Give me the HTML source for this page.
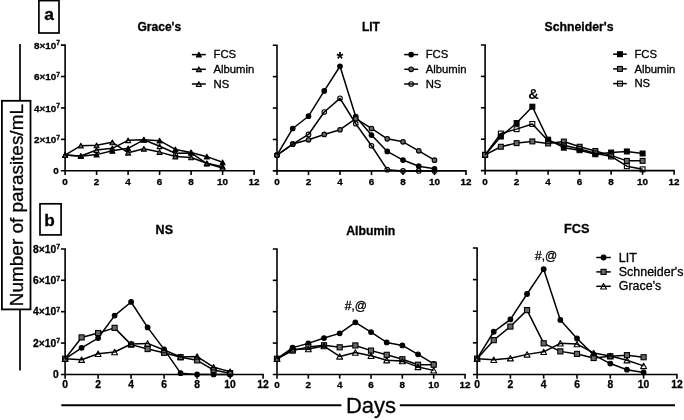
<!DOCTYPE html>
<html lang="en">
<head>
<meta charset="utf-8">
<title>Number of parasites/mL over days</title>
<style>
html,body{margin:0;padding:0;background:#fff;}
body{width:684px;height:420px;overflow:hidden;}
svg{display:block;will-change:transform;font-family:"Liberation Sans", Arial, Helvetica, sans-serif;fill:#000;}
.k{stroke:#000;stroke-width:0.3px;}
.m{stroke:#000;stroke-width:0.3px;}
</style>
</head>
<body>
<svg width="684" height="420" viewBox="0 0 684 420">
<rect x="0" y="0" width="684" height="420" fill="#fff"/>
<path d="M60.90 45.10H65.10V175.00" fill="none" stroke="#000" stroke-width="1.6"/>
<path d="M60.90 170.80H254.10V175.00" fill="none" stroke="#000" stroke-width="1.6"/>
<path d="M60.90 139.38H65.10" stroke="#000" stroke-width="1.6"/>
<path d="M60.90 107.95H65.10" stroke="#000" stroke-width="1.6"/>
<path d="M60.90 76.53H65.10" stroke="#000" stroke-width="1.6"/>
<path d="M96.60 170.80V175.00" stroke="#000" stroke-width="1.6"/>
<path d="M128.10 170.80V175.00" stroke="#000" stroke-width="1.6"/>
<path d="M159.60 170.80V175.00" stroke="#000" stroke-width="1.6"/>
<path d="M191.10 170.80V175.00" stroke="#000" stroke-width="1.6"/>
<path d="M222.60 170.80V175.00" stroke="#000" stroke-width="1.6"/>
<text x="65.10" y="184.70" text-anchor="middle" font-size="9.9" font-weight="700" class="k">0</text>
<text x="96.60" y="184.70" text-anchor="middle" font-size="9.9" font-weight="700" class="k">2</text>
<text x="128.10" y="184.70" text-anchor="middle" font-size="9.9" font-weight="700" class="k">4</text>
<text x="159.60" y="184.70" text-anchor="middle" font-size="9.9" font-weight="700" class="k">6</text>
<text x="191.10" y="184.70" text-anchor="middle" font-size="9.9" font-weight="700" class="k">8</text>
<text x="222.60" y="184.70" text-anchor="middle" font-size="9.9" font-weight="700" class="k">10</text>
<text x="254.10" y="184.70" text-anchor="middle" font-size="9.9" font-weight="700" class="k">12</text>
<text x="60.10" y="143.07" text-anchor="end" font-size="9.9" font-weight="700" class="k">2×10<tspan dy="-3.4" font-size="6.73">7</tspan></text>
<text x="60.10" y="111.65" text-anchor="end" font-size="9.9" font-weight="700" class="k">4×10<tspan dy="-3.4" font-size="6.73">7</tspan></text>
<text x="60.10" y="80.23" text-anchor="end" font-size="9.9" font-weight="700" class="k">6×10<tspan dy="-3.4" font-size="6.73">7</tspan></text>
<text x="60.10" y="48.80" text-anchor="end" font-size="9.9" font-weight="700" class="k">8×10<tspan dy="-3.4" font-size="6.73">7</tspan></text>
<text x="58.80" y="174.40" text-anchor="end" font-size="9.9" font-weight="700" class="k">0</text>
<polyline points="65.10,155.09 80.85,156.19 96.60,154.62 112.35,150.85 128.10,148.33 143.85,139.85 159.60,140.63 175.35,149.43 191.10,152.42 206.85,156.66 222.60,162.32" fill="none" stroke="#000" stroke-width="1.5" stroke-linejoin="round"/>
<path d="M65.10 152.74L67.65 157.44L62.55 157.44Z" fill="#000" stroke="#000" stroke-width="1.1" stroke-linejoin="round"/>
<path d="M80.85 153.84L83.40 158.54L78.30 158.54Z" fill="#000" stroke="#000" stroke-width="1.1" stroke-linejoin="round"/>
<path d="M96.60 152.27L99.15 156.97L94.05 156.97Z" fill="#000" stroke="#000" stroke-width="1.1" stroke-linejoin="round"/>
<path d="M112.35 148.50L114.90 153.20L109.80 153.20Z" fill="#000" stroke="#000" stroke-width="1.1" stroke-linejoin="round"/>
<path d="M128.10 145.98L130.65 150.68L125.55 150.68Z" fill="#000" stroke="#000" stroke-width="1.1" stroke-linejoin="round"/>
<path d="M143.85 137.50L146.40 142.20L141.30 142.20Z" fill="#000" stroke="#000" stroke-width="1.1" stroke-linejoin="round"/>
<path d="M159.60 138.28L162.15 142.98L157.05 142.98Z" fill="#000" stroke="#000" stroke-width="1.1" stroke-linejoin="round"/>
<path d="M175.35 147.08L177.90 151.78L172.80 151.78Z" fill="#000" stroke="#000" stroke-width="1.1" stroke-linejoin="round"/>
<path d="M191.10 150.07L193.65 154.77L188.55 154.77Z" fill="#000" stroke="#000" stroke-width="1.1" stroke-linejoin="round"/>
<path d="M206.85 154.31L209.40 159.01L204.30 159.01Z" fill="#000" stroke="#000" stroke-width="1.1" stroke-linejoin="round"/>
<path d="M222.60 159.97L225.15 164.67L220.05 164.67Z" fill="#000" stroke="#000" stroke-width="1.1" stroke-linejoin="round"/>
<polyline points="65.10,155.09 80.85,145.66 96.60,145.35 112.35,142.36 128.10,152.73 143.85,148.80 159.60,152.10 175.35,156.50 191.10,157.44 206.85,163.26 222.60,166.71" fill="none" stroke="#000" stroke-width="1.5" stroke-linejoin="round"/>
<path d="M65.10 152.74L67.65 157.44L62.55 157.44Z" fill="#5c5c5c" stroke="#000" stroke-width="1.1" stroke-linejoin="round"/>
<path d="M80.85 143.31L83.40 148.01L78.30 148.01Z" fill="#5c5c5c" stroke="#000" stroke-width="1.1" stroke-linejoin="round"/>
<path d="M96.60 143.00L99.15 147.70L94.05 147.70Z" fill="#5c5c5c" stroke="#000" stroke-width="1.1" stroke-linejoin="round"/>
<path d="M112.35 140.01L114.90 144.71L109.80 144.71Z" fill="#5c5c5c" stroke="#000" stroke-width="1.1" stroke-linejoin="round"/>
<path d="M128.10 150.38L130.65 155.08L125.55 155.08Z" fill="#5c5c5c" stroke="#000" stroke-width="1.1" stroke-linejoin="round"/>
<path d="M143.85 146.45L146.40 151.15L141.30 151.15Z" fill="#5c5c5c" stroke="#000" stroke-width="1.1" stroke-linejoin="round"/>
<path d="M159.60 149.75L162.15 154.45L157.05 154.45Z" fill="#5c5c5c" stroke="#000" stroke-width="1.1" stroke-linejoin="round"/>
<path d="M175.35 154.15L177.90 158.85L172.80 158.85Z" fill="#5c5c5c" stroke="#000" stroke-width="1.1" stroke-linejoin="round"/>
<path d="M191.10 155.09L193.65 159.79L188.55 159.79Z" fill="#5c5c5c" stroke="#000" stroke-width="1.1" stroke-linejoin="round"/>
<path d="M206.85 160.91L209.40 165.61L204.30 165.61Z" fill="#5c5c5c" stroke="#000" stroke-width="1.1" stroke-linejoin="round"/>
<path d="M222.60 164.36L225.15 169.06L220.05 169.06Z" fill="#5c5c5c" stroke="#000" stroke-width="1.1" stroke-linejoin="round"/>
<polyline points="65.10,155.09 80.85,156.03 96.60,150.06 112.35,148.33 128.10,140.32 143.85,139.69 159.60,146.29 175.35,153.20 191.10,152.89 206.85,163.57 222.60,167.97" fill="none" stroke="#000" stroke-width="1.5" stroke-linejoin="round"/>
<path d="M65.10 152.74L67.65 157.44L62.55 157.44Z" fill="none" stroke="#000" stroke-width="1.1" stroke-linejoin="round"/>
<path d="M80.85 153.68L83.40 158.38L78.30 158.38Z" fill="none" stroke="#000" stroke-width="1.1" stroke-linejoin="round"/>
<path d="M96.60 147.71L99.15 152.41L94.05 152.41Z" fill="none" stroke="#000" stroke-width="1.1" stroke-linejoin="round"/>
<path d="M112.35 145.98L114.90 150.68L109.80 150.68Z" fill="none" stroke="#000" stroke-width="1.1" stroke-linejoin="round"/>
<path d="M128.10 137.97L130.65 142.67L125.55 142.67Z" fill="none" stroke="#000" stroke-width="1.1" stroke-linejoin="round"/>
<path d="M143.85 137.34L146.40 142.04L141.30 142.04Z" fill="none" stroke="#000" stroke-width="1.1" stroke-linejoin="round"/>
<path d="M159.60 143.94L162.15 148.64L157.05 148.64Z" fill="none" stroke="#000" stroke-width="1.1" stroke-linejoin="round"/>
<path d="M175.35 150.85L177.90 155.55L172.80 155.55Z" fill="none" stroke="#000" stroke-width="1.1" stroke-linejoin="round"/>
<path d="M191.10 150.54L193.65 155.24L188.55 155.24Z" fill="none" stroke="#000" stroke-width="1.1" stroke-linejoin="round"/>
<path d="M206.85 161.22L209.40 165.92L204.30 165.92Z" fill="none" stroke="#000" stroke-width="1.1" stroke-linejoin="round"/>
<path d="M222.60 165.62L225.15 170.32L220.05 170.32Z" fill="none" stroke="#000" stroke-width="1.1" stroke-linejoin="round"/>
<path d="M272.80 45.20H277.00V175.10" fill="none" stroke="#000" stroke-width="1.6"/>
<path d="M272.80 170.90H466.00V175.10" fill="none" stroke="#000" stroke-width="1.6"/>
<path d="M272.80 139.47H277.00" stroke="#000" stroke-width="1.6"/>
<path d="M272.80 108.05H277.00" stroke="#000" stroke-width="1.6"/>
<path d="M272.80 76.62H277.00" stroke="#000" stroke-width="1.6"/>
<path d="M308.50 170.90V175.10" stroke="#000" stroke-width="1.6"/>
<path d="M340.00 170.90V175.10" stroke="#000" stroke-width="1.6"/>
<path d="M371.50 170.90V175.10" stroke="#000" stroke-width="1.6"/>
<path d="M403.00 170.90V175.10" stroke="#000" stroke-width="1.6"/>
<path d="M434.50 170.90V175.10" stroke="#000" stroke-width="1.6"/>
<text x="277.00" y="184.80" text-anchor="middle" font-size="9.9" font-weight="700" class="k">0</text>
<text x="308.50" y="184.80" text-anchor="middle" font-size="9.9" font-weight="700" class="k">2</text>
<text x="340.00" y="184.80" text-anchor="middle" font-size="9.9" font-weight="700" class="k">4</text>
<text x="371.50" y="184.80" text-anchor="middle" font-size="9.9" font-weight="700" class="k">6</text>
<text x="403.00" y="184.80" text-anchor="middle" font-size="9.9" font-weight="700" class="k">8</text>
<text x="434.50" y="184.80" text-anchor="middle" font-size="9.9" font-weight="700" class="k">10</text>
<text x="466.00" y="184.80" text-anchor="middle" font-size="9.9" font-weight="700" class="k">12</text>
<polyline points="277.00,155.19 292.75,128.48 308.50,116.22 324.25,90.92 340.00,66.25 355.75,116.69 371.50,135.08 387.25,151.42 403.00,160.06 418.75,166.19 434.50,168.86" fill="none" stroke="#000" stroke-width="1.5" stroke-linejoin="round"/>
<circle cx="277.00" cy="155.19" r="2.30" fill="#000" stroke="#000" stroke-width="1.1"/>
<circle cx="292.75" cy="128.48" r="2.30" fill="#000" stroke="#000" stroke-width="1.1"/>
<circle cx="308.50" cy="116.22" r="2.30" fill="#000" stroke="#000" stroke-width="1.1"/>
<circle cx="324.25" cy="90.92" r="2.30" fill="#000" stroke="#000" stroke-width="1.1"/>
<circle cx="340.00" cy="66.25" r="2.30" fill="#000" stroke="#000" stroke-width="1.1"/>
<circle cx="355.75" cy="116.69" r="2.30" fill="#000" stroke="#000" stroke-width="1.1"/>
<circle cx="371.50" cy="135.08" r="2.30" fill="#000" stroke="#000" stroke-width="1.1"/>
<circle cx="387.25" cy="151.42" r="2.30" fill="#000" stroke="#000" stroke-width="1.1"/>
<circle cx="403.00" cy="160.06" r="2.30" fill="#000" stroke="#000" stroke-width="1.1"/>
<circle cx="418.75" cy="166.19" r="2.30" fill="#000" stroke="#000" stroke-width="1.1"/>
<circle cx="434.50" cy="168.86" r="2.30" fill="#000" stroke="#000" stroke-width="1.1"/>
<polyline points="277.00,155.19 292.75,144.03 308.50,139.79 324.25,134.45 340.00,129.73 355.75,118.73 371.50,128.48 387.25,138.85 403.00,141.83 418.75,150.79 434.50,160.22" fill="none" stroke="#000" stroke-width="1.5" stroke-linejoin="round"/>
<circle cx="277.00" cy="155.19" r="2.30" fill="#686868" stroke="#000" stroke-width="1.1"/>
<circle cx="292.75" cy="144.03" r="2.30" fill="#686868" stroke="#000" stroke-width="1.1"/>
<circle cx="308.50" cy="139.79" r="2.30" fill="#686868" stroke="#000" stroke-width="1.1"/>
<circle cx="324.25" cy="134.45" r="2.30" fill="#686868" stroke="#000" stroke-width="1.1"/>
<circle cx="340.00" cy="129.73" r="2.30" fill="#686868" stroke="#000" stroke-width="1.1"/>
<circle cx="355.75" cy="118.73" r="2.30" fill="#686868" stroke="#000" stroke-width="1.1"/>
<circle cx="371.50" cy="128.48" r="2.30" fill="#686868" stroke="#000" stroke-width="1.1"/>
<circle cx="387.25" cy="138.85" r="2.30" fill="#686868" stroke="#000" stroke-width="1.1"/>
<circle cx="403.00" cy="141.83" r="2.30" fill="#686868" stroke="#000" stroke-width="1.1"/>
<circle cx="418.75" cy="150.79" r="2.30" fill="#686868" stroke="#000" stroke-width="1.1"/>
<circle cx="434.50" cy="160.22" r="2.30" fill="#686868" stroke="#000" stroke-width="1.1"/>
<polyline points="277.00,155.19 292.75,144.19 308.50,134.45 324.25,111.98 340.00,98.31 355.75,123.76 371.50,145.76 387.25,169.64 403.00,170.90 418.75,170.90 434.50,170.90" fill="none" stroke="#000" stroke-width="1.5" stroke-linejoin="round"/>
<circle cx="277.00" cy="155.19" r="2.30" fill="none" stroke="#000" stroke-width="1.1"/>
<circle cx="292.75" cy="144.19" r="2.30" fill="none" stroke="#000" stroke-width="1.1"/>
<circle cx="308.50" cy="134.45" r="2.30" fill="none" stroke="#000" stroke-width="1.1"/>
<circle cx="324.25" cy="111.98" r="2.30" fill="none" stroke="#000" stroke-width="1.1"/>
<circle cx="340.00" cy="98.31" r="2.30" fill="none" stroke="#000" stroke-width="1.1"/>
<circle cx="355.75" cy="123.76" r="2.30" fill="none" stroke="#000" stroke-width="1.1"/>
<circle cx="371.50" cy="145.76" r="2.30" fill="none" stroke="#000" stroke-width="1.1"/>
<circle cx="387.25" cy="169.64" r="2.30" fill="none" stroke="#000" stroke-width="1.1"/>
<circle cx="403.00" cy="170.90" r="2.30" fill="none" stroke="#000" stroke-width="1.1"/>
<circle cx="418.75" cy="170.90" r="2.30" fill="none" stroke="#000" stroke-width="1.1"/>
<circle cx="434.50" cy="170.90" r="2.30" fill="none" stroke="#000" stroke-width="1.1"/>
<path d="M480.90 45.00H485.10V174.80" fill="none" stroke="#000" stroke-width="1.6"/>
<path d="M480.90 170.60H674.10V174.80" fill="none" stroke="#000" stroke-width="1.6"/>
<path d="M480.90 139.20H485.10" stroke="#000" stroke-width="1.6"/>
<path d="M480.90 107.80H485.10" stroke="#000" stroke-width="1.6"/>
<path d="M480.90 76.40H485.10" stroke="#000" stroke-width="1.6"/>
<path d="M516.60 170.60V174.80" stroke="#000" stroke-width="1.6"/>
<path d="M548.10 170.60V174.80" stroke="#000" stroke-width="1.6"/>
<path d="M579.60 170.60V174.80" stroke="#000" stroke-width="1.6"/>
<path d="M611.10 170.60V174.80" stroke="#000" stroke-width="1.6"/>
<path d="M642.60 170.60V174.80" stroke="#000" stroke-width="1.6"/>
<text x="485.10" y="184.50" text-anchor="middle" font-size="9.9" font-weight="700" class="k">0</text>
<text x="516.60" y="184.50" text-anchor="middle" font-size="9.9" font-weight="700" class="k">2</text>
<text x="548.10" y="184.50" text-anchor="middle" font-size="9.9" font-weight="700" class="k">4</text>
<text x="579.60" y="184.50" text-anchor="middle" font-size="9.9" font-weight="700" class="k">6</text>
<text x="611.10" y="184.50" text-anchor="middle" font-size="9.9" font-weight="700" class="k">8</text>
<text x="642.60" y="184.50" text-anchor="middle" font-size="9.9" font-weight="700" class="k">10</text>
<text x="674.10" y="184.50" text-anchor="middle" font-size="9.9" font-weight="700" class="k">12</text>
<polyline points="485.10,154.90 500.85,136.53 516.60,123.03 532.35,106.70 548.10,139.67 563.85,147.68 579.60,150.19 595.35,154.27 611.10,152.54 626.85,151.45 642.60,153.49" fill="none" stroke="#000" stroke-width="1.5" stroke-linejoin="round"/>
<rect x="482.65" y="152.45" width="4.90" height="4.90" fill="#000" stroke="#000" stroke-width="1.1"/>
<rect x="498.40" y="134.08" width="4.90" height="4.90" fill="#000" stroke="#000" stroke-width="1.1"/>
<rect x="514.15" y="120.58" width="4.90" height="4.90" fill="#000" stroke="#000" stroke-width="1.1"/>
<rect x="529.90" y="104.25" width="4.90" height="4.90" fill="#000" stroke="#000" stroke-width="1.1"/>
<rect x="545.65" y="137.22" width="4.90" height="4.90" fill="#000" stroke="#000" stroke-width="1.1"/>
<rect x="561.40" y="145.23" width="4.90" height="4.90" fill="#000" stroke="#000" stroke-width="1.1"/>
<rect x="577.15" y="147.74" width="4.90" height="4.90" fill="#000" stroke="#000" stroke-width="1.1"/>
<rect x="592.90" y="151.82" width="4.90" height="4.90" fill="#000" stroke="#000" stroke-width="1.1"/>
<rect x="608.65" y="150.09" width="4.90" height="4.90" fill="#000" stroke="#000" stroke-width="1.1"/>
<rect x="624.40" y="149.00" width="4.90" height="4.90" fill="#000" stroke="#000" stroke-width="1.1"/>
<rect x="640.15" y="151.04" width="4.90" height="4.90" fill="#000" stroke="#000" stroke-width="1.1"/>
<polyline points="485.10,154.90 500.85,146.74 516.60,143.12 532.35,141.40 548.10,143.44 563.85,141.56 579.60,146.74 595.35,150.97 611.10,155.37 626.85,160.87 642.60,160.87" fill="none" stroke="#000" stroke-width="1.5" stroke-linejoin="round"/>
<rect x="482.65" y="152.45" width="4.90" height="4.90" fill="#686868" stroke="#000" stroke-width="1.1"/>
<rect x="498.40" y="144.29" width="4.90" height="4.90" fill="#686868" stroke="#000" stroke-width="1.1"/>
<rect x="514.15" y="140.68" width="4.90" height="4.90" fill="#686868" stroke="#000" stroke-width="1.1"/>
<rect x="529.90" y="138.95" width="4.90" height="4.90" fill="#686868" stroke="#000" stroke-width="1.1"/>
<rect x="545.65" y="140.99" width="4.90" height="4.90" fill="#686868" stroke="#000" stroke-width="1.1"/>
<rect x="561.40" y="139.11" width="4.90" height="4.90" fill="#686868" stroke="#000" stroke-width="1.1"/>
<rect x="577.15" y="144.29" width="4.90" height="4.90" fill="#686868" stroke="#000" stroke-width="1.1"/>
<rect x="592.90" y="148.53" width="4.90" height="4.90" fill="#686868" stroke="#000" stroke-width="1.1"/>
<rect x="608.65" y="152.92" width="4.90" height="4.90" fill="#686868" stroke="#000" stroke-width="1.1"/>
<rect x="624.40" y="158.42" width="4.90" height="4.90" fill="#686868" stroke="#000" stroke-width="1.1"/>
<rect x="640.15" y="158.42" width="4.90" height="4.90" fill="#686868" stroke="#000" stroke-width="1.1"/>
<polyline points="485.10,154.90 500.85,133.55 516.60,129.15 532.35,123.97 548.10,140.77 563.85,145.17 579.60,148.93 595.35,153.33 611.10,156.47 626.85,166.20 642.60,169.34" fill="none" stroke="#000" stroke-width="1.5" stroke-linejoin="round"/>
<rect x="482.65" y="152.45" width="4.90" height="4.90" fill="none" stroke="#000" stroke-width="1.1"/>
<rect x="498.40" y="131.10" width="4.90" height="4.90" fill="none" stroke="#000" stroke-width="1.1"/>
<rect x="514.15" y="126.70" width="4.90" height="4.90" fill="none" stroke="#000" stroke-width="1.1"/>
<rect x="529.90" y="121.52" width="4.90" height="4.90" fill="none" stroke="#000" stroke-width="1.1"/>
<rect x="545.65" y="138.32" width="4.90" height="4.90" fill="none" stroke="#000" stroke-width="1.1"/>
<rect x="561.40" y="142.72" width="4.90" height="4.90" fill="none" stroke="#000" stroke-width="1.1"/>
<rect x="577.15" y="146.48" width="4.90" height="4.90" fill="none" stroke="#000" stroke-width="1.1"/>
<rect x="592.90" y="150.88" width="4.90" height="4.90" fill="none" stroke="#000" stroke-width="1.1"/>
<rect x="608.65" y="154.02" width="4.90" height="4.90" fill="none" stroke="#000" stroke-width="1.1"/>
<rect x="624.40" y="163.75" width="4.90" height="4.90" fill="none" stroke="#000" stroke-width="1.1"/>
<rect x="640.15" y="166.89" width="4.90" height="4.90" fill="none" stroke="#000" stroke-width="1.1"/>
<path d="M60.90 248.95H65.10V378.65" fill="none" stroke="#000" stroke-width="1.6"/>
<path d="M60.90 374.45H263.10V378.65" fill="none" stroke="#000" stroke-width="1.6"/>
<path d="M60.90 343.07H65.10" stroke="#000" stroke-width="1.6"/>
<path d="M60.90 311.70H65.10" stroke="#000" stroke-width="1.6"/>
<path d="M60.90 280.32H65.10" stroke="#000" stroke-width="1.6"/>
<path d="M98.10 374.45V378.65" stroke="#000" stroke-width="1.6"/>
<path d="M131.10 374.45V378.65" stroke="#000" stroke-width="1.6"/>
<path d="M164.10 374.45V378.65" stroke="#000" stroke-width="1.6"/>
<path d="M197.10 374.45V378.65" stroke="#000" stroke-width="1.6"/>
<path d="M230.10 374.45V378.65" stroke="#000" stroke-width="1.6"/>
<text x="65.10" y="388.35" text-anchor="middle" font-size="10.3" font-weight="700" class="k">0</text>
<text x="98.10" y="388.35" text-anchor="middle" font-size="10.3" font-weight="700" class="k">2</text>
<text x="131.10" y="388.35" text-anchor="middle" font-size="10.3" font-weight="700" class="k">4</text>
<text x="164.10" y="388.35" text-anchor="middle" font-size="10.3" font-weight="700" class="k">6</text>
<text x="197.10" y="388.35" text-anchor="middle" font-size="10.3" font-weight="700" class="k">8</text>
<text x="230.10" y="388.35" text-anchor="middle" font-size="10.3" font-weight="700" class="k">10</text>
<text x="263.10" y="388.35" text-anchor="middle" font-size="10.3" font-weight="700" class="k">12</text>
<text x="60.10" y="346.77" text-anchor="end" font-size="10.3" font-weight="700" class="k">2×10<tspan dy="-3.4" font-size="7.00">7</tspan></text>
<text x="60.10" y="315.40" text-anchor="end" font-size="10.3" font-weight="700" class="k">4×10<tspan dy="-3.4" font-size="7.00">7</tspan></text>
<text x="60.10" y="284.02" text-anchor="end" font-size="10.3" font-weight="700" class="k">6×10<tspan dy="-3.4" font-size="7.00">7</tspan></text>
<text x="60.10" y="252.65" text-anchor="end" font-size="10.3" font-weight="700" class="k">8×10<tspan dy="-3.4" font-size="7.00">7</tspan></text>
<text x="58.80" y="378.05" text-anchor="end" font-size="10.3" font-weight="700" class="k">0</text>
<polyline points="65.10,358.76 81.60,347.78 98.10,338.06 114.60,315.62 131.10,301.97 147.60,327.39 164.10,349.35 180.60,373.19 197.10,374.45 213.60,374.45 230.10,374.45" fill="none" stroke="#000" stroke-width="1.5" stroke-linejoin="round"/>
<circle cx="65.10" cy="358.76" r="2.35" fill="#000" stroke="#000" stroke-width="1.1"/>
<circle cx="81.60" cy="347.78" r="2.35" fill="#000" stroke="#000" stroke-width="1.1"/>
<circle cx="98.10" cy="338.06" r="2.35" fill="#000" stroke="#000" stroke-width="1.1"/>
<circle cx="114.60" cy="315.62" r="2.35" fill="#000" stroke="#000" stroke-width="1.1"/>
<circle cx="131.10" cy="301.97" r="2.35" fill="#000" stroke="#000" stroke-width="1.1"/>
<circle cx="147.60" cy="327.39" r="2.35" fill="#000" stroke="#000" stroke-width="1.1"/>
<circle cx="164.10" cy="349.35" r="2.35" fill="#000" stroke="#000" stroke-width="1.1"/>
<circle cx="180.60" cy="373.19" r="2.35" fill="#000" stroke="#000" stroke-width="1.1"/>
<circle cx="197.10" cy="374.45" r="2.35" fill="#000" stroke="#000" stroke-width="1.1"/>
<circle cx="213.60" cy="374.45" r="2.35" fill="#000" stroke="#000" stroke-width="1.1"/>
<circle cx="230.10" cy="374.45" r="2.35" fill="#000" stroke="#000" stroke-width="1.1"/>
<polyline points="65.10,358.76 81.60,337.43 98.10,333.03 114.60,327.86 131.10,344.64 147.60,349.04 164.10,352.80 180.60,357.19 197.10,360.33 213.60,370.06 230.10,373.19" fill="none" stroke="#000" stroke-width="1.5" stroke-linejoin="round"/>
<rect x="62.55" y="356.21" width="5.10" height="5.10" fill="#686868" stroke="#000" stroke-width="1.1"/>
<rect x="79.05" y="334.88" width="5.10" height="5.10" fill="#686868" stroke="#000" stroke-width="1.1"/>
<rect x="95.55" y="330.48" width="5.10" height="5.10" fill="#686868" stroke="#000" stroke-width="1.1"/>
<rect x="112.05" y="325.31" width="5.10" height="5.10" fill="#686868" stroke="#000" stroke-width="1.1"/>
<rect x="128.55" y="342.09" width="5.10" height="5.10" fill="#686868" stroke="#000" stroke-width="1.1"/>
<rect x="145.05" y="346.49" width="5.10" height="5.10" fill="#686868" stroke="#000" stroke-width="1.1"/>
<rect x="161.55" y="350.25" width="5.10" height="5.10" fill="#686868" stroke="#000" stroke-width="1.1"/>
<rect x="178.05" y="354.64" width="5.10" height="5.10" fill="#686868" stroke="#000" stroke-width="1.1"/>
<rect x="194.55" y="357.78" width="5.10" height="5.10" fill="#686868" stroke="#000" stroke-width="1.1"/>
<rect x="211.05" y="367.51" width="5.10" height="5.10" fill="#686868" stroke="#000" stroke-width="1.1"/>
<rect x="227.55" y="370.64" width="5.10" height="5.10" fill="#686868" stroke="#000" stroke-width="1.1"/>
<polyline points="65.10,358.76 81.60,359.70 98.10,353.74 114.60,352.02 131.10,344.02 147.60,343.39 164.10,349.98 180.60,356.88 197.10,356.57 213.60,367.23 230.10,371.63" fill="none" stroke="#000" stroke-width="1.5" stroke-linejoin="round"/>
<path d="M65.10 356.06L68.05 361.46L62.15 361.46Z" fill="none" stroke="#000" stroke-width="1.1" stroke-linejoin="round"/>
<path d="M81.60 357.00L84.55 362.40L78.65 362.40Z" fill="none" stroke="#000" stroke-width="1.1" stroke-linejoin="round"/>
<path d="M98.10 351.04L101.05 356.44L95.15 356.44Z" fill="none" stroke="#000" stroke-width="1.1" stroke-linejoin="round"/>
<path d="M114.60 349.32L117.55 354.72L111.65 354.72Z" fill="none" stroke="#000" stroke-width="1.1" stroke-linejoin="round"/>
<path d="M131.10 341.32L134.05 346.72L128.15 346.72Z" fill="none" stroke="#000" stroke-width="1.1" stroke-linejoin="round"/>
<path d="M147.60 340.69L150.55 346.09L144.65 346.09Z" fill="none" stroke="#000" stroke-width="1.1" stroke-linejoin="round"/>
<path d="M164.10 347.28L167.05 352.68L161.15 352.68Z" fill="none" stroke="#000" stroke-width="1.1" stroke-linejoin="round"/>
<path d="M180.60 354.18L183.55 359.58L177.65 359.58Z" fill="none" stroke="#000" stroke-width="1.1" stroke-linejoin="round"/>
<path d="M197.10 353.87L200.05 359.27L194.15 359.27Z" fill="none" stroke="#000" stroke-width="1.1" stroke-linejoin="round"/>
<path d="M213.60 364.53L216.55 369.93L210.65 369.93Z" fill="none" stroke="#000" stroke-width="1.1" stroke-linejoin="round"/>
<path d="M230.10 368.93L233.05 374.33L227.15 374.33Z" fill="none" stroke="#000" stroke-width="1.1" stroke-linejoin="round"/>
<path d="M272.80 248.95H277.00V378.65" fill="none" stroke="#000" stroke-width="1.6"/>
<path d="M272.80 374.45H465.04V378.65" fill="none" stroke="#000" stroke-width="1.6"/>
<path d="M272.80 343.07H277.00" stroke="#000" stroke-width="1.6"/>
<path d="M272.80 311.70H277.00" stroke="#000" stroke-width="1.6"/>
<path d="M272.80 280.32H277.00" stroke="#000" stroke-width="1.6"/>
<path d="M308.34 374.45V378.65" stroke="#000" stroke-width="1.6"/>
<path d="M339.68 374.45V378.65" stroke="#000" stroke-width="1.6"/>
<path d="M371.02 374.45V378.65" stroke="#000" stroke-width="1.6"/>
<path d="M402.36 374.45V378.65" stroke="#000" stroke-width="1.6"/>
<path d="M433.70 374.45V378.65" stroke="#000" stroke-width="1.6"/>
<text x="277.00" y="388.35" text-anchor="middle" font-size="9.9" font-weight="700" class="k">0</text>
<text x="308.34" y="388.35" text-anchor="middle" font-size="9.9" font-weight="700" class="k">2</text>
<text x="339.68" y="388.35" text-anchor="middle" font-size="9.9" font-weight="700" class="k">4</text>
<text x="371.02" y="388.35" text-anchor="middle" font-size="9.9" font-weight="700" class="k">6</text>
<text x="402.36" y="388.35" text-anchor="middle" font-size="9.9" font-weight="700" class="k">8</text>
<text x="433.70" y="388.35" text-anchor="middle" font-size="9.9" font-weight="700" class="k">10</text>
<text x="465.04" y="388.35" text-anchor="middle" font-size="9.9" font-weight="700" class="k">12</text>
<polyline points="277.00,358.76 292.67,347.62 308.34,343.39 324.01,338.06 339.68,333.35 355.35,322.37 371.02,332.09 386.69,342.45 402.36,345.43 418.03,354.37 433.70,363.78" fill="none" stroke="#000" stroke-width="1.5" stroke-linejoin="round"/>
<circle cx="277.00" cy="358.76" r="2.35" fill="#000" stroke="#000" stroke-width="1.1"/>
<circle cx="292.67" cy="347.62" r="2.35" fill="#000" stroke="#000" stroke-width="1.1"/>
<circle cx="308.34" cy="343.39" r="2.35" fill="#000" stroke="#000" stroke-width="1.1"/>
<circle cx="324.01" cy="338.06" r="2.35" fill="#000" stroke="#000" stroke-width="1.1"/>
<circle cx="339.68" cy="333.35" r="2.35" fill="#000" stroke="#000" stroke-width="1.1"/>
<circle cx="355.35" cy="322.37" r="2.35" fill="#000" stroke="#000" stroke-width="1.1"/>
<circle cx="371.02" cy="332.09" r="2.35" fill="#000" stroke="#000" stroke-width="1.1"/>
<circle cx="386.69" cy="342.45" r="2.35" fill="#000" stroke="#000" stroke-width="1.1"/>
<circle cx="402.36" cy="345.43" r="2.35" fill="#000" stroke="#000" stroke-width="1.1"/>
<circle cx="418.03" cy="354.37" r="2.35" fill="#000" stroke="#000" stroke-width="1.1"/>
<circle cx="433.70" cy="363.78" r="2.35" fill="#000" stroke="#000" stroke-width="1.1"/>
<polyline points="277.00,358.76 292.67,350.61 308.34,347.00 324.01,345.27 339.68,347.31 355.35,345.43 371.02,350.61 386.69,354.84 402.36,359.23 418.03,364.72 433.70,364.72" fill="none" stroke="#000" stroke-width="1.5" stroke-linejoin="round"/>
<rect x="274.45" y="356.21" width="5.10" height="5.10" fill="#686868" stroke="#000" stroke-width="1.1"/>
<rect x="290.12" y="348.06" width="5.10" height="5.10" fill="#686868" stroke="#000" stroke-width="1.1"/>
<rect x="305.79" y="344.45" width="5.10" height="5.10" fill="#686868" stroke="#000" stroke-width="1.1"/>
<rect x="321.46" y="342.72" width="5.10" height="5.10" fill="#686868" stroke="#000" stroke-width="1.1"/>
<rect x="337.13" y="344.76" width="5.10" height="5.10" fill="#686868" stroke="#000" stroke-width="1.1"/>
<rect x="352.80" y="342.88" width="5.10" height="5.10" fill="#686868" stroke="#000" stroke-width="1.1"/>
<rect x="368.47" y="348.06" width="5.10" height="5.10" fill="#686868" stroke="#000" stroke-width="1.1"/>
<rect x="384.14" y="352.29" width="5.10" height="5.10" fill="#686868" stroke="#000" stroke-width="1.1"/>
<rect x="399.81" y="356.68" width="5.10" height="5.10" fill="#686868" stroke="#000" stroke-width="1.1"/>
<rect x="415.48" y="362.17" width="5.10" height="5.10" fill="#686868" stroke="#000" stroke-width="1.1"/>
<rect x="431.15" y="362.17" width="5.10" height="5.10" fill="#686868" stroke="#000" stroke-width="1.1"/>
<polyline points="277.00,358.76 292.67,349.35 308.34,349.04 324.01,346.06 339.68,356.41 355.35,352.49 371.02,355.78 386.69,360.17 402.36,361.12 418.03,366.92 433.70,370.37" fill="none" stroke="#000" stroke-width="1.5" stroke-linejoin="round"/>
<path d="M277.00 356.06L279.95 361.46L274.05 361.46Z" fill="none" stroke="#000" stroke-width="1.1" stroke-linejoin="round"/>
<path d="M292.67 346.65L295.62 352.05L289.72 352.05Z" fill="none" stroke="#000" stroke-width="1.1" stroke-linejoin="round"/>
<path d="M308.34 346.34L311.29 351.74L305.39 351.74Z" fill="none" stroke="#000" stroke-width="1.1" stroke-linejoin="round"/>
<path d="M324.01 343.36L326.96 348.76L321.06 348.76Z" fill="none" stroke="#000" stroke-width="1.1" stroke-linejoin="round"/>
<path d="M339.68 353.71L342.63 359.11L336.73 359.11Z" fill="none" stroke="#000" stroke-width="1.1" stroke-linejoin="round"/>
<path d="M355.35 349.79L358.30 355.19L352.40 355.19Z" fill="none" stroke="#000" stroke-width="1.1" stroke-linejoin="round"/>
<path d="M371.02 353.08L373.97 358.48L368.07 358.48Z" fill="none" stroke="#000" stroke-width="1.1" stroke-linejoin="round"/>
<path d="M386.69 357.47L389.64 362.87L383.74 362.87Z" fill="none" stroke="#000" stroke-width="1.1" stroke-linejoin="round"/>
<path d="M402.36 358.42L405.31 363.82L399.41 363.82Z" fill="none" stroke="#000" stroke-width="1.1" stroke-linejoin="round"/>
<path d="M418.03 364.22L420.98 369.62L415.08 369.62Z" fill="none" stroke="#000" stroke-width="1.1" stroke-linejoin="round"/>
<path d="M433.70 367.67L436.65 373.07L430.75 373.07Z" fill="none" stroke="#000" stroke-width="1.1" stroke-linejoin="round"/>
<path d="M472.90 248.00H477.10V378.65" fill="none" stroke="#000" stroke-width="1.6"/>
<path d="M472.90 374.45H676.90V378.65" fill="none" stroke="#000" stroke-width="1.6"/>
<path d="M472.90 342.84H477.10" stroke="#000" stroke-width="1.6"/>
<path d="M472.90 311.23H477.10" stroke="#000" stroke-width="1.6"/>
<path d="M472.90 279.61H477.10" stroke="#000" stroke-width="1.6"/>
<path d="M510.40 374.45V378.65" stroke="#000" stroke-width="1.6"/>
<path d="M543.70 374.45V378.65" stroke="#000" stroke-width="1.6"/>
<path d="M577.00 374.45V378.65" stroke="#000" stroke-width="1.6"/>
<path d="M610.30 374.45V378.65" stroke="#000" stroke-width="1.6"/>
<path d="M643.60 374.45V378.65" stroke="#000" stroke-width="1.6"/>
<text x="477.10" y="388.35" text-anchor="middle" font-size="10.3" font-weight="700" class="k">0</text>
<text x="510.40" y="388.35" text-anchor="middle" font-size="10.3" font-weight="700" class="k">2</text>
<text x="543.70" y="388.35" text-anchor="middle" font-size="10.3" font-weight="700" class="k">4</text>
<text x="577.00" y="388.35" text-anchor="middle" font-size="10.3" font-weight="700" class="k">6</text>
<text x="610.30" y="388.35" text-anchor="middle" font-size="10.3" font-weight="700" class="k">8</text>
<text x="643.60" y="388.35" text-anchor="middle" font-size="10.3" font-weight="700" class="k">10</text>
<text x="676.90" y="388.35" text-anchor="middle" font-size="10.3" font-weight="700" class="k">12</text>
<polyline points="477.10,358.64 493.75,331.77 510.40,319.44 527.05,294.00 543.70,269.18 560.35,319.92 577.00,338.41 593.65,354.85 610.30,363.54 626.95,369.71 643.60,372.40" fill="none" stroke="#000" stroke-width="1.5" stroke-linejoin="round"/>
<circle cx="477.10" cy="358.64" r="2.35" fill="#000" stroke="#000" stroke-width="1.1"/>
<circle cx="493.75" cy="331.77" r="2.35" fill="#000" stroke="#000" stroke-width="1.1"/>
<circle cx="510.40" cy="319.44" r="2.35" fill="#000" stroke="#000" stroke-width="1.1"/>
<circle cx="527.05" cy="294.00" r="2.35" fill="#000" stroke="#000" stroke-width="1.1"/>
<circle cx="543.70" cy="269.18" r="2.35" fill="#000" stroke="#000" stroke-width="1.1"/>
<circle cx="560.35" cy="319.92" r="2.35" fill="#000" stroke="#000" stroke-width="1.1"/>
<circle cx="577.00" cy="338.41" r="2.35" fill="#000" stroke="#000" stroke-width="1.1"/>
<circle cx="593.65" cy="354.85" r="2.35" fill="#000" stroke="#000" stroke-width="1.1"/>
<circle cx="610.30" cy="363.54" r="2.35" fill="#000" stroke="#000" stroke-width="1.1"/>
<circle cx="626.95" cy="369.71" r="2.35" fill="#000" stroke="#000" stroke-width="1.1"/>
<circle cx="643.60" cy="372.40" r="2.35" fill="#000" stroke="#000" stroke-width="1.1"/>
<polyline points="477.10,358.64 493.75,340.15 510.40,326.56 527.05,310.12 543.70,343.31 560.35,351.37 577.00,353.90 593.65,358.01 610.30,356.27 626.95,355.17 643.60,357.22" fill="none" stroke="#000" stroke-width="1.5" stroke-linejoin="round"/>
<rect x="474.55" y="356.09" width="5.10" height="5.10" fill="#686868" stroke="#000" stroke-width="1.1"/>
<rect x="491.20" y="337.60" width="5.10" height="5.10" fill="#686868" stroke="#000" stroke-width="1.1"/>
<rect x="507.85" y="324.01" width="5.10" height="5.10" fill="#686868" stroke="#000" stroke-width="1.1"/>
<rect x="524.50" y="307.57" width="5.10" height="5.10" fill="#686868" stroke="#000" stroke-width="1.1"/>
<rect x="541.15" y="340.76" width="5.10" height="5.10" fill="#686868" stroke="#000" stroke-width="1.1"/>
<rect x="557.80" y="348.82" width="5.10" height="5.10" fill="#686868" stroke="#000" stroke-width="1.1"/>
<rect x="574.45" y="351.35" width="5.10" height="5.10" fill="#686868" stroke="#000" stroke-width="1.1"/>
<rect x="591.10" y="355.46" width="5.10" height="5.10" fill="#686868" stroke="#000" stroke-width="1.1"/>
<rect x="607.75" y="353.72" width="5.10" height="5.10" fill="#686868" stroke="#000" stroke-width="1.1"/>
<rect x="624.40" y="352.62" width="5.10" height="5.10" fill="#686868" stroke="#000" stroke-width="1.1"/>
<rect x="641.05" y="354.67" width="5.10" height="5.10" fill="#686868" stroke="#000" stroke-width="1.1"/>
<polyline points="477.10,358.64 493.75,359.75 510.40,358.17 527.05,354.38 543.70,351.85 560.35,343.31 577.00,344.10 593.65,352.95 610.30,355.96 626.95,360.22 643.60,365.91" fill="none" stroke="#000" stroke-width="1.5" stroke-linejoin="round"/>
<path d="M477.10 355.94L480.05 361.34L474.15 361.34Z" fill="none" stroke="#000" stroke-width="1.1" stroke-linejoin="round"/>
<path d="M493.75 357.05L496.70 362.45L490.80 362.45Z" fill="none" stroke="#000" stroke-width="1.1" stroke-linejoin="round"/>
<path d="M510.40 355.47L513.35 360.87L507.45 360.87Z" fill="none" stroke="#000" stroke-width="1.1" stroke-linejoin="round"/>
<path d="M527.05 351.68L530.00 357.08L524.10 357.08Z" fill="none" stroke="#000" stroke-width="1.1" stroke-linejoin="round"/>
<path d="M543.70 349.15L546.65 354.55L540.75 354.55Z" fill="none" stroke="#000" stroke-width="1.1" stroke-linejoin="round"/>
<path d="M560.35 340.61L563.30 346.01L557.40 346.01Z" fill="none" stroke="#000" stroke-width="1.1" stroke-linejoin="round"/>
<path d="M577.00 341.40L579.95 346.80L574.05 346.80Z" fill="none" stroke="#000" stroke-width="1.1" stroke-linejoin="round"/>
<path d="M593.65 350.25L596.60 355.65L590.70 355.65Z" fill="none" stroke="#000" stroke-width="1.1" stroke-linejoin="round"/>
<path d="M610.30 353.26L613.25 358.66L607.35 358.66Z" fill="none" stroke="#000" stroke-width="1.1" stroke-linejoin="round"/>
<path d="M626.95 357.52L629.90 362.92L624.00 362.92Z" fill="none" stroke="#000" stroke-width="1.1" stroke-linejoin="round"/>
<path d="M643.60 363.21L646.55 368.61L640.65 368.61Z" fill="none" stroke="#000" stroke-width="1.1" stroke-linejoin="round"/>
<path d="M191.90 54.60H205.80" stroke="#000" stroke-width="1.5"/>
<path d="M198.85 52.25L201.40 56.95L196.30 56.95Z" fill="#000" stroke="#000" stroke-width="1.1" stroke-linejoin="round"/>
<text x="213.50" y="58.33" font-size="11.3" class="m">FCS</text>
<path d="M191.90 69.30H205.80" stroke="#000" stroke-width="1.5"/>
<path d="M198.85 66.95L201.40 71.65L196.30 71.65Z" fill="#5c5c5c" stroke="#000" stroke-width="1.1" stroke-linejoin="round"/>
<text x="213.50" y="73.03" font-size="11.3" class="m">Albumin</text>
<path d="M191.90 84.00H205.80" stroke="#000" stroke-width="1.5"/>
<path d="M198.85 81.65L201.40 86.35L196.30 86.35Z" fill="none" stroke="#000" stroke-width="1.1" stroke-linejoin="round"/>
<text x="213.50" y="87.73" font-size="11.3" class="m">NS</text>
<path d="M404.20 54.60H418.10" stroke="#000" stroke-width="1.5"/>
<circle cx="411.15" cy="54.60" r="2.30" fill="#000" stroke="#000" stroke-width="1.1"/>
<text x="425.70" y="58.33" font-size="11.3" class="m">FCS</text>
<path d="M404.20 69.30H418.10" stroke="#000" stroke-width="1.5"/>
<circle cx="411.15" cy="69.30" r="2.30" fill="#686868" stroke="#000" stroke-width="1.1"/>
<text x="425.70" y="73.03" font-size="11.3" class="m">Albumin</text>
<path d="M404.20 84.00H418.10" stroke="#000" stroke-width="1.5"/>
<circle cx="411.15" cy="84.00" r="2.30" fill="none" stroke="#000" stroke-width="1.1"/>
<text x="425.70" y="87.73" font-size="11.3" class="m">NS</text>
<path d="M613.10 54.20H626.80" stroke="#000" stroke-width="1.5"/>
<rect x="617.50" y="51.75" width="4.90" height="4.90" fill="#000" stroke="#000" stroke-width="1.1"/>
<text x="634.40" y="57.93" font-size="11.3" class="m">FCS</text>
<path d="M613.10 68.90H626.80" stroke="#000" stroke-width="1.5"/>
<rect x="617.50" y="66.45" width="4.90" height="4.90" fill="#686868" stroke="#000" stroke-width="1.1"/>
<text x="634.40" y="72.63" font-size="11.3" class="m">Albumin</text>
<path d="M613.10 83.60H626.80" stroke="#000" stroke-width="1.5"/>
<rect x="617.50" y="81.15" width="4.90" height="4.90" fill="none" stroke="#000" stroke-width="1.1"/>
<text x="634.40" y="87.33" font-size="11.3" class="m">NS</text>
<path d="M596.30 257.50H610.80" stroke="#000" stroke-width="1.5"/>
<circle cx="603.55" cy="257.50" r="2.35" fill="#000" stroke="#000" stroke-width="1.1"/>
<text x="618.80" y="261.61" font-size="12.45" class="m">LIT</text>
<path d="M596.30 271.90H610.80" stroke="#000" stroke-width="1.5"/>
<rect x="601.00" y="269.35" width="5.10" height="5.10" fill="#686868" stroke="#000" stroke-width="1.1"/>
<text x="618.80" y="276.01" font-size="12.45" class="m">Schneider's</text>
<path d="M596.30 286.30H610.80" stroke="#000" stroke-width="1.5"/>
<path d="M603.55 283.60L606.50 289.00L600.60 289.00Z" fill="none" stroke="#000" stroke-width="1.1" stroke-linejoin="round"/>
<text x="618.80" y="290.41" font-size="12.45" class="m">Grace's</text>
<text x="159.30" y="30.90" text-anchor="middle" font-size="12.05" font-weight="700" class="k">Grace's</text>
<text x="370.80" y="30.90" text-anchor="middle" font-size="11.9" font-weight="700" class="k">LIT</text>
<text x="579.00" y="30.90" text-anchor="middle" font-size="12.25" font-weight="700" class="k">Schneider's</text>
<text x="164.30" y="233.90" text-anchor="middle" font-size="12.5" font-weight="700" class="k">NS</text>
<text x="370.80" y="234.80" text-anchor="middle" font-size="12.3" font-weight="700" class="k">Albumin</text>
<text x="576.70" y="233.30" text-anchor="middle" font-size="12.7" font-weight="700" class="k">FCS</text>
<text x="340.0" y="64.7" text-anchor="middle" font-size="17.5" font-weight="700">*</text>
<text x="533.4" y="98.7" text-anchor="middle" font-size="14.5" font-weight="700">&amp;</text>
<text x="355.9" y="309.7" text-anchor="middle" font-size="12" class="m">#,@</text>
<text x="546.1" y="260.1" text-anchor="middle" font-size="12" class="m">#,@</text>
<rect x="38.9" y="0.6" width="20.1" height="32.4" fill="none" stroke="#000" stroke-width="1.7"/>
<text x="49.1" y="20.0" text-anchor="middle" font-size="17.4" font-weight="700" class="k">a</text>
<rect x="40.0" y="203.8" width="21.1" height="31.1" fill="none" stroke="#000" stroke-width="1.7"/>
<text x="49.5" y="225.9" text-anchor="middle" font-size="17.2" font-weight="700" class="k">b</text>
<path d="M20 44.1V100M20 310V370.6" stroke="#000" stroke-width="1.7"/>
<rect x="1.9" y="100.8" width="28.6" height="208.6" fill="none" stroke="#000" stroke-width="1.8"/>
<text transform="translate(22.5 205.1) rotate(-90)" text-anchor="middle" font-size="18.95" class="m">Number of parasites/mL</text>
<path d="M61.3 405.2H341.4M399.8 405.2H675" stroke="#000" stroke-width="1.9"/>
<text x="371.0" y="413.3" text-anchor="middle" font-size="22" class="m">Days</text>
</svg>
</body>
</html>
